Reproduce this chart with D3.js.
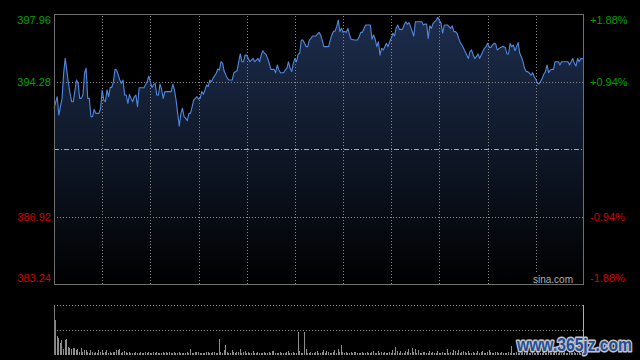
<!DOCTYPE html>
<html>
<head>
<meta charset="utf-8">
<script src="https://cdn.jsdelivr.net/npm/d3@7"></script>
<style>
  html, body { margin: 0; padding: 0; background: #000; }
  svg { display: block; }
</style>
</head>
<body>
<svg id="chart" width="640" height="360"></svg>
<script>
// ---------------- data ----------------
const prevClose = 390.60;
const priceLabels = [397.96, 394.28, 386.92, 383.24];
const pctLabels = [1.88, 0.94, -0.94, -1.88];
const gridPrices = [394.28, 386.92];
const timeGrid = [30, 60, 90, 120, 150, 180, 210, 240, 270, 300];

const minutes = [0,2,3,4,5,6,7,9,10,11,12,14,15,16,17,18,19,20,21,22,23,24,25,26,28,29,30,31,32,33,34,35,36,37,38,39,41,42,43,44,45,46,47,48,49,50,51,52,53,56,58,59,61,62,63,64,65,66,67,68,69,71,73,74,75,76,77,78,79,80,81,82,83,84,85,87,88,89,90,91,92,93,94,95,96,97,98,99,101,102,103,
104,105,106,108,109,111,112,114,115,116,117,118,119,120,121,122,123,124,125,126,127,128,129,130,131,132,133,134,135,137,138,139,140,141,143,144,145,146,147,148,149,150,151,152,153,154,155,156,157,158,159,160,161,163,165,166,167,168,171,172,173,174,175,176,177,178,179,180,181,182,183,184,185,187,189,190,191,192,194,197,198,199,200,201,202,203,204,205,206,207,208,209,210,211,212,213,214,215,217,218,219,220,221,222,224,225,227,
229,230,231,232,233,234,235,236,237,238,239,240,241,242,243,244,245,247,248,249,250,251,252,253,254,255,256,257,258,259,260,261,262,263,264,265,266,267,268,269,270,271,272,273,274,275,276,278,279,280,281,282,283,284,285,286,287,288,289,290,291,292,293,294,295,296,297,298,299,300,301,302,304,305,306,307,308,309,310,311,312,314,315,316,319,320,321,322,323,324,325,326,327,328,330];

const prices = [392.82,393.45,392.45,392.91,393.36,394.73,395.54,394.18,393.63,393.18,393.18,394.36,394.18,393.36,393.36,393.54,394.73,395.00,393.36,393.36,392.36,392.36,392.76,392.54,392.54,392.82,393.82,393.27,393.18,393.82,393.45,393.96,393.96,394.27,394.94,394.91,394.36,394.18,394.36,393.54,393.54,393.09,393.58,393.36,393.18,393.45,393.54,392.91,393.94,393.94,394.27,394.58,393.96,394.09,394.18,393.54,393.54,394.14,393.85,393.36,393.73,393.73,393.73,394.14,393.82,393.27,392.54,391.85,392.54,392.82,392.36,392.27,392.14,392.54,392.54,393.27,393.36,393.45,393.32,393.36,393.73,393.58,393.82,394.09,394.00,394.36,394.27,394.45,394.73,394.96,394.91,
395.36,395.27,394.82,394.45,394.36,394.36,394.76,394.87,395.36,395.78,395.36,395.36,395.72,395.72,395.54,395.36,395.45,395.54,395.36,395.45,395.54,395.36,395.72,395.96,395.82,395.76,395.54,395.27,394.94,394.94,394.76,395.18,394.91,394.76,394.76,394.91,395.00,395.36,395.00,394.82,395.27,395.54,395.36,395.76,395.82,396.54,396.54,396.36,396.18,396.18,396.54,396.63,396.76,396.76,396.96,396.82,396.54,396.18,396.18,396.54,396.82,397.00,397.03,397.27,397.63,397.00,397.18,396.96,397.00,396.96,397.18,396.82,396.58,396.54,396.54,396.72,396.96,396.96,397.36,397.36,396.58,396.82,396.58,396.18,396.45,395.72,396.09,396.00,396.18,396.36,396.18,396.45,396.63,396.91,396.76,397.18,397.36,397.12,397.12,397.36,397.54,397.40,397.49,397.27,396.76,397.54,397.54,
397.54,397.36,397.41,397.41,396.63,397.31,397.18,397.45,397.54,397.63,397.78,397.60,397.45,396.91,397.36,397.36,397.36,397.18,397.31,397.00,397.00,396.91,396.63,396.40,396.27,396.09,395.91,395.72,395.54,395.91,396.00,395.72,395.54,395.63,395.78,395.54,395.72,395.91,396.09,396.18,396.36,396.14,396.14,396.27,396.36,396.32,396.00,396.14,396.18,396.18,396.14,395.78,395.78,396.36,396.18,396.27,395.96,396.18,396.40,395.82,395.63,395.36,395.00,394.82,394.82,394.73,394.63,394.76,394.54,394.40,394.18,394.14,394.45,394.69,394.82,395.18,394.76,394.91,394.94,394.94,395.36,395.36,395.18,395.36,395.36,395.36,395.18,395.36,395.54,395.27,395.12,395.54,395.36,395.54,395.49];

// volume per minute (thousand shares), minute 0..330
const volumes = [
350,190,170,120,155,65,150,165,80,70,
60,70,75,50,65,35,75,35,50,50,
35,25,50,35,25,35,20,55,35,50,
25,35,50,25,35,25,35,35,55,50,
65,25,35,45,30,25,30,25,20,25,
30,20,25,30,25,20,35,25,30,20,
25,35,20,30,25,20,25,35,20,30,
25,30,20,25,35,20,25,30,20,25,
25,20,30,25,57,25,20,30,33,35,
20,25,20,25,30,35,20,25,35,33,
25,20,160,33,25,50,100,30,25,20,
50,30,25,35,30,57,25,30,40,25,
30,25,20,40,25,20,30,25,20,25,
30,20,25,30,25,40,40,25,20,25,
30,25,20,25,30,40,25,20,30,25,
20,233,40,25,20,233,57,25,20,30,
25,20,30,40,25,20,30,50,25,40,
30,25,20,33,50,25,65,30,100,33,
25,33,20,25,33,20,30,33,25,20,
25,33,20,25,30,20,25,30,43,25,
20,43,25,30,20,33,25,20,30,25,
50,25,83,43,25,43,20,25,43,30,
60,25,67,30,60,25,50,20,25,30,
33,25,20,43,25,30,20,25,43,20,
25,30,20,25,60,25,30,20,50,43,
25,50,20,30,43,33,25,43,20,25,
30,25,20,40,25,30,43,25,20,30,
50,33,25,20,30,33,25,20,30,25,
20,25,30,25,93,25,20,30,25,20,
25,30,20,25,30,20,25,30,25,20,
30,25,20,25,30,25,20,30,25,20,
25,30,20,25,30,20,25,30,20,25,
30,20,25,30,25,20,30,25,20,30,25];

// ---------------- layout ----------------
const L = 54, R = 584, T = 14, B = 284;
const VT = 305, VB = 355;

const svg = d3.select("#chart");
svg.append("rect").attr("width", 640).attr("height", 360).attr("fill", "#000");

const x = d3.scaleLinear().domain([0, 330]).range([L, R]);
const y = d3.scaleLinear().domain([383.24, 397.96]).range([B, T]);
const yPct = d3.scaleLinear().domain([-1.88, 1.88]).range([B, T]);
const yVol = d3.scaleLinear().domain([0, 500]).range([VB, VT]);

const pts = minutes.map((m, i) => ({ m, p: prices[i] }));

// gradient
const defs = svg.append("defs");
const grad = defs.append("linearGradient").attr("id", "areaGrad")
  .attr("gradientUnits", "userSpaceOnUse")
  .attr("x1", 0).attr("y1", T).attr("x2", 0).attr("y2", B);
grad.append("stop").attr("offset", 0).attr("stop-color", "#1d2d4d");
grad.append("stop").attr("offset", 0.5).attr("stop-color", "#0f1828");
grad.append("stop").attr("offset", 1).attr("stop-color", "#000000");

// area
svg.append("path").datum(pts)
  .attr("fill", "url(#areaGrad)")
  .attr("d", d3.area().x(d => x(d.m)).y0(B).y1(d => y(d.p)));

// vertical grid
svg.append("g").attr("transform", `translate(0,${B})`)
  .call(d3.axisBottom(x).tickValues(timeGrid).tickSize(-(B - T)).tickFormat(""))
  .call(g => g.select(".domain").remove())
  .call(g => g.selectAll("line").attr("stroke", "#8a8a8a").attr("stroke-dasharray", "1,2")
    .attr("shape-rendering", "crispEdges"));

// horizontal grid
svg.append("g").attr("transform", `translate(${L},0)`)
  .call(d3.axisLeft(y).tickValues(gridPrices).tickSize(-(R - L)).tickFormat(""))
  .call(g => g.select(".domain").remove())
  .call(g => g.selectAll("line").attr("stroke", "#8a8a8a").attr("stroke-dasharray", "1,2")
    .attr("shape-rendering", "crispEdges"));

// prev close line
svg.append("g").attr("transform", `translate(${L},0)`)
  .call(d3.axisLeft(y).tickValues([prevClose]).tickSize(-(R - L)).tickFormat(""))
  .call(g => g.select(".domain").remove())
  .call(g => g.selectAll("line").attr("stroke", "#a8a8a8").attr("stroke-dasharray", "5,2,1,2")
    .attr("shape-rendering", "crispEdges"));

// price line
svg.append("path").datum(pts)
  .attr("fill", "none").attr("stroke", "#5088e0").attr("stroke-width", 1.1)
  .attr("stroke-linejoin", "round")
  .attr("d", d3.line().x(d => x(d.m)).y(d => y(d.p)));

// sina.com label
svg.append("rect").attr("x", 531).attr("y", 273).attr("width", 44).attr("height", 10.5).attr("fill", "#000");
svg.append("text").attr("x", 573).attr("y", 282.5).attr("text-anchor", "end")
  .attr("font-family", "'Liberation Sans', Arial, sans-serif").attr("font-size", 10)
  .attr("fill", "#b0b0b0").text("sina.com");

// frame
svg.append("rect").attr("x", L + 0.5).attr("y", T + 0.5).attr("width", R - L - 1).attr("height", B - T)
  .attr("fill", "none").attr("stroke", "#6e6e6e").attr("shape-rendering", "crispEdges");

// left axis labels
const fmt = d3.format(".2f");
svg.append("g").attr("transform", `translate(${L},0)`)
  .call(d3.axisLeft(y).tickValues(priceLabels).tickSize(0).tickPadding(3).tickFormat(fmt))
  .call(g => g.select(".domain").remove())
  .call(g => g.selectAll("text")
    .attr("font-family", "'Liberation Sans', Arial, sans-serif").attr("font-size", 11)
    .attr("fill", d => d > prevClose ? "#00a000" : "#d00000")
    .attr("dy", d => d === 397.96 ? "0.85em" : d === 383.24 ? "-0.22em" : "0.32em"));

// right axis labels
const pfmt = d => (d > 0 ? "+" : "") + d.toFixed(2) + "%";
svg.append("g").attr("transform", `translate(${R},0)`)
  .call(d3.axisRight(yPct).tickValues(pctLabels).tickSize(0).tickPadding(6).tickFormat(pfmt))
  .call(g => g.select(".domain").remove())
  .call(g => g.selectAll("text")
    .attr("font-family", "'Liberation Sans', Arial, sans-serif").attr("font-size", 11)
    .attr("fill", d => d > 0 ? "#00a000" : "#d00000")
    .attr("dy", d => d === 1.88 ? "0.85em" : d === -1.88 ? "-0.22em" : "0.32em"));

// ---------------- volume panel ----------------
svg.append("g").attr("transform", `translate(${L},0)`)
  .call(d3.axisLeft(yVol).tickValues([500, 250]).tickSize(-(R - L)).tickFormat(""))
  .call(g => g.select(".domain").remove())
  .call(g => g.selectAll("line").attr("stroke", "#8a8a8a").attr("stroke-dasharray", "1,2")
    .attr("shape-rendering", "crispEdges"));

svg.append("g").selectAll("line").data(volumes).join("line")
  .attr("x1", (d, i) => Math.round(x(i)) + 1.5).attr("x2", (d, i) => Math.round(x(i)) + 1.5)
  .attr("y1", VB).attr("y2", d => yVol(d))
  .attr("stroke", "#8c8c8c").attr("stroke-width", 1).attr("shape-rendering", "crispEdges");

svg.append("line").attr("x1", L + 0.5).attr("x2", L + 0.5).attr("y1", VT).attr("y2", VB)
  .attr("stroke", "#7a7a7a").attr("shape-rendering", "crispEdges");
svg.append("line").attr("x1", R - 0.5).attr("x2", R - 0.5).attr("y1", VT).attr("y2", VB)
  .attr("stroke", "#b0b0b0").attr("shape-rendering", "crispEdges");

// watermark
svg.append("text").attr("transform", "translate(517,351) scale(1,1.2)")
  .attr("font-family", "'Liberation Sans', Arial, sans-serif").attr("font-weight", "bold")
  .attr("font-size", 16).attr("textLength", 115).attr("lengthAdjust", "spacingAndGlyphs")
  .attr("fill", "#1f4f9c").attr("stroke", "#c4c4c4").attr("stroke-width", 2.5)
  .attr("paint-order", "stroke").attr("stroke-linejoin", "round")
  .text("www.365jz.com");
</script>
</body>
</html>
